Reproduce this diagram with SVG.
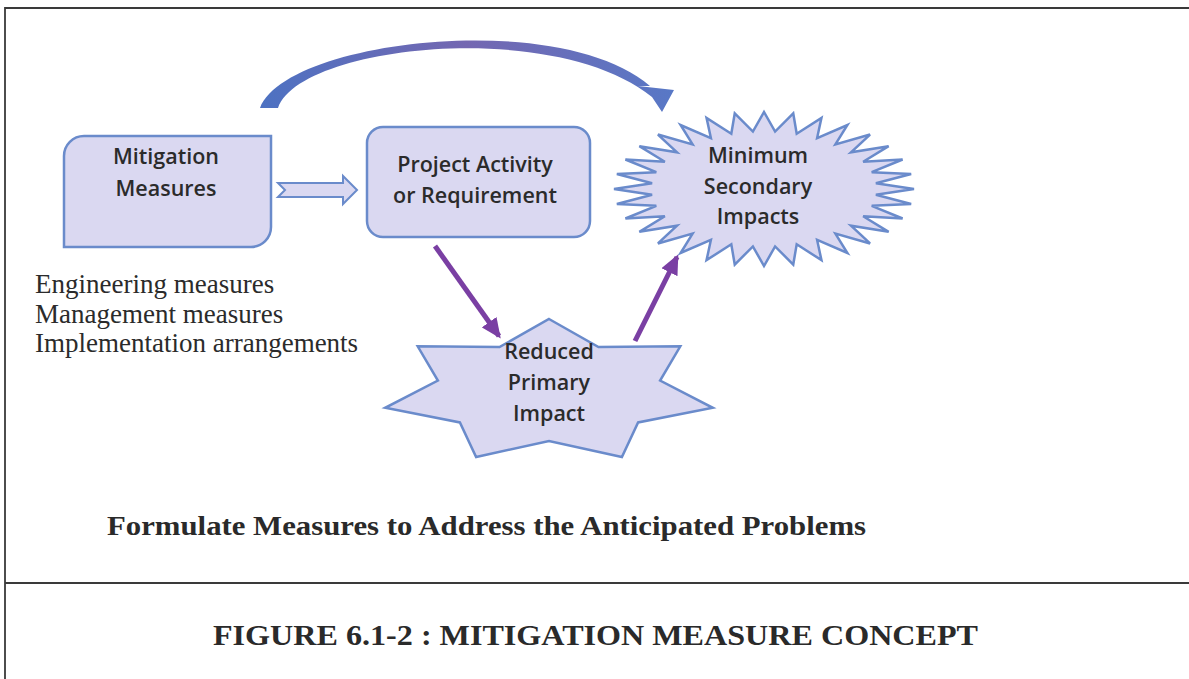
<svg xmlns="http://www.w3.org/2000/svg" width="1189" height="679" viewBox="0 0 1189 679">
  <style>
    .shape { fill: #dad8f1; stroke: #6a8bcb; stroke-width: 2.5; }
    .label { font-family: "Open Sans", "Liberation Sans", sans-serif; font-weight: 600; font-size: 21.5px; fill: #2b2b2b; text-anchor: middle; }
    .list { font-family: "Liberation Serif", serif; font-size: 27px; fill: #2b2b2b; }
    .caption { font-family: "Liberation Serif", serif; font-weight: bold; fill: #2a2a2a; }
    .frame { stroke: #3a3a3a; stroke-width: 1.8; fill: none; }
    .link { stroke: #7a3fa3; stroke-width: 5; fill: none; }
  </style>
  <defs>
    <marker id="head" markerUnits="userSpaceOnUse" markerWidth="20" markerHeight="18" refX="17" refY="9" orient="auto">
      <path d="M0,0 L20,9 L0,18 Z" fill="#7a3fa3"/>
    </marker>
    <linearGradient id="curveGrad" x1="0" y1="0" x2="1" y2="0">
      <stop offset="0" stop-color="#4d72c2"/>
      <stop offset="0.5" stop-color="#7467b1"/>
      <stop offset="1" stop-color="#5878c6"/>
    </linearGradient>
  </defs>

  <rect width="1189" height="679" fill="#ffffff"/>

  <g id="frame">
    <path class="frame" d="M5,679 V8 H1189"/>
    <line class="frame" x1="5" y1="583" x2="1189" y2="583"/>
  </g>

  <g id="connectors">
    <path d="M260,108 C285,40 560,8 650,86 L638,86 L674,90 L662,112 L652,97 C555,18 300,45 278,108 Z" fill="url(#curveGrad)"/>
    <path d="M278,183 H343 V176 L357,190 L343,204 V197 H278 L285,190 Z" fill="#dad8f1" stroke="#6a8bcb" stroke-width="2"/>
    <line class="link" x1="435" y1="246" x2="499" y2="336" marker-end="url(#head)"/>
    <line class="link" x1="635" y1="341" x2="677" y2="257" marker-end="url(#head)"/>
  </g>

  <g id="mitigation-measures">
    <path class="shape" d="M84,136 H271 V227 A20,20 0 0 1 251,247 H64 V156 A20,20 0 0 1 84,136 Z"/>
    <text class="label" x="166" y="164">Mitigation</text>
    <text class="label" x="166" y="196">Measures</text>
  </g>

  <g id="project-activity">
    <rect class="shape" x="367" y="127" width="223" height="110" rx="16" ry="16"/>
    <text class="label" x="475" y="172">Project Activity</text>
    <text class="label" x="475" y="203">or Requirement</text>
  </g>

  <g id="minimum-secondary-impacts">
    <path class="shape" vector-effect="non-scaling-stroke" transform="translate(764,189) scale(1.5,0.77)" d="M100,0 L74.6,7.4 L98.1,19.5 L71.8,21.8 L92.4,38.3 L66.1,35.4 L83.1,55.6 L58,47.6 L70.7,70.7 L47.6,58 L55.6,83.1 L35.4,66.1 L38.3,92.4 L21.8,71.8 L19.5,98.1 L7.4,74.6 L0,100 L-7.4,74.6 L-19.5,98.1 L-21.8,71.8 L-38.3,92.4 L-35.4,66.1 L-55.6,83.1 L-47.6,58 L-70.7,70.7 L-58,47.6 L-83.1,55.6 L-66.1,35.4 L-92.4,38.3 L-71.8,21.8 L-98.1,19.5 L-74.6,7.4 L-100,0 L-74.6,-7.4 L-98.1,-19.5 L-71.8,-21.8 L-92.4,-38.3 L-66.1,-35.4 L-83.1,-55.6 L-58,-47.6 L-70.7,-70.7 L-47.6,-58 L-55.6,-83.1 L-35.4,-66.1 L-38.3,-92.4 L-21.8,-71.8 L-19.5,-98.1 L-7.4,-74.6 L0,-100 L7.4,-74.6 L19.5,-98.1 L21.8,-71.8 L38.3,-92.4 L35.4,-66.1 L55.6,-83.1 L47.6,-58 L70.7,-70.7 L58,-47.6 L83.1,-55.6 L66.1,-35.4 L92.4,-38.3 L71.8,-21.8 L98.1,-19.5 L74.6,-7.4 Z"/>
    <text class="label" x="758" y="163">Minimum</text>
    <text class="label" x="758" y="194">Secondary</text>
    <text class="label" x="758" y="224">Impacts</text>
  </g>

  <g id="reduced-primary-impact">
    <path class="shape" d="M549,319 L598.5,347.1 L680.3,346.3 L660.1,380.6 L712.8,407.8 L638.1,422.4 L621.9,457 L549,441 L476.1,457 L459.9,422.4 L385.2,407.8 L437.9,380.6 L417.7,346.3 L499.5,347.1 Z"/>
    <text class="label" x="549" y="359">Reduced</text>
    <text class="label" x="549" y="390">Primary</text>
    <text class="label" x="549" y="421">Impact</text>
  </g>

  <g id="measure-list">
    <text class="list" x="35" y="293">Engineering measures</text>
    <text class="list" x="35" y="323">Management measures</text>
    <text class="list" x="35" y="352">Implementation arrangements</text>
  </g>

  <g id="captions">
    <text class="caption" x="107" y="535" font-size="27" textLength="759" lengthAdjust="spacingAndGlyphs">Formulate Measures to Address the Anticipated Problems</text>
    <text class="caption" x="213" y="645" font-size="30" textLength="765" lengthAdjust="spacingAndGlyphs">FIGURE 6.1-2 : MITIGATION MEASURE CONCEPT</text>
  </g>
</svg>
